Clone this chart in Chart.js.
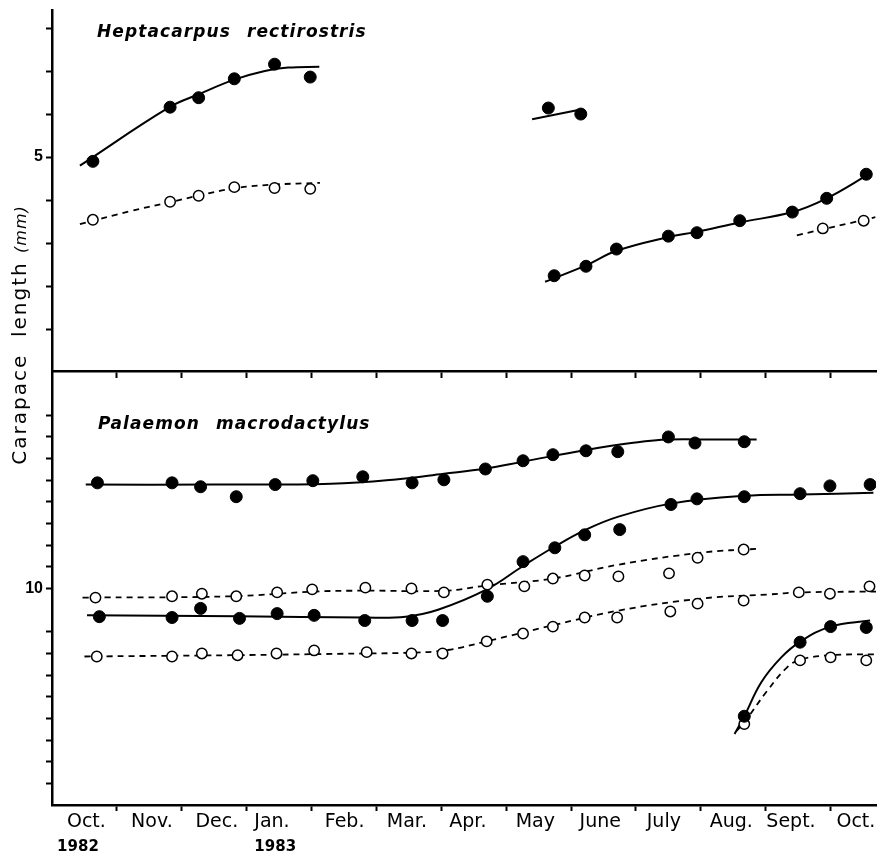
<!DOCTYPE html>
<html>
<head>
<meta charset="utf-8">
<script src="https://cdn.jsdelivr.net/npm/chart.js@4.4.1/dist/chart.umd.min.js"></script>
<style>
  html, body { margin: 0; padding: 0; background: #fff; }
  body { width: 883px; height: 856px; position: relative; overflow: hidden; }
  canvas { position: absolute; left: 0; top: 0; }
  #cvTop { z-index: 2; }
  #cvBottom { z-index: 1; }
  .species {
    position: absolute; z-index: 3; color: #000;
    font-family: "DejaVu Sans", sans-serif; font-style: italic; font-weight: bold;
    font-size: 17px; line-height: 17px; letter-spacing: 1.1px; word-spacing: 9px;
    white-space: nowrap;
  }
  #ylab {
    position: absolute; z-index: 3; left: -131px; top: 323px; width: 300px; height: 24px;
    line-height: 24px; text-align: center; transform: rotate(-90deg);
    font-family: "DejaVu Sans", sans-serif; font-size: 20px; letter-spacing: 2px; color: #000;
    white-space: nowrap;
  }
  #ylab i { font-size: 16px; letter-spacing: 1px; }
</style>
</head>
<body>
<canvas id="cvBottom" width="883" height="856"></canvas>
<canvas id="cvTop" width="883" height="380"></canvas>
<div class="species" style="left:97px; top:23px;">Heptacarpus rectirostris</div>
<div class="species" style="left:98px; top:415px;">Palaemon macrodactylus</div>
<div id="ylab">Carapace&nbsp;&nbsp;length <i>(mm)</i></div>
<script>
// Time axis: months since 1 Oct 1982.
const monthBoundaries = [1, 2, 3, 4, 5, 6, 7, 8, 9, 10, 11, 12];
const monthLabels = ['Oct.', 'Nov.', 'Dec.', 'Jan.', 'Feb.', 'Mar.', 'Apr.', 'May', 'June', 'July', 'Aug.', 'Sept.', 'Oct.'];
const monthLabelPos = [0.53, 1.54, 2.54, 3.39, 4.51, 5.47, 6.41, 7.45, 8.45, 9.43, 10.47, 11.39, 12.39];
const yearLabels = ['1982', '1983'];
const yearLabelPos = [0.40, 3.44];

// Carapace length ticks (mm)
const hrTicks = [3, 3.5, 4, 4.5, 5, 5.5, 6, 6.5];
const hrTickLabels = [5];
const pmTicks = [5.5, 6, 6.5, 7, 7.5, 8, 8.5, 9, 10, 10.5, 11, 11.5, 12, 12.5, 13, 13.5, 14];
const pmTickLabels = [10];

// Heptacarpus rectirostris
const hrAutumnMonth = [0.63, 1.82, 2.26, 2.81, 3.43, 3.98];
const hrAutumnMax = [4.95, 5.58, 5.69, 5.91, 6.08, 5.93];
const hrAutumnMaxFitMonth = [0.43, 1.81, 2.26, 2.81, 3.28, 3.64, 4.12];
const hrAutumnMaxFit = [4.90, 5.58, 5.73, 5.90, 6.00, 6.04, 6.05];
const hrAutumnMean = [4.27, 4.48, 4.55, 4.65, 4.64, 4.63];
const hrAutumnMeanFitMonth = [0.43, 1.2, 1.79, 2.25, 2.83, 3.43, 4.13];
const hrAutumnMeanFit = [4.22, 4.37, 4.47, 4.55, 4.64, 4.68, 4.70];
const hrSpringMonth = [7.65, 8.15];
const hrSpringMax = [5.57, 5.50];
const hrSpringFitMonth = [7.40, 8.13];
const hrSpringFit = [5.44, 5.55];
const hrSummerMonth = [7.74, 8.23, 8.70, 9.50, 9.94, 10.60, 11.41, 11.94, 12.55];
const hrSummerMax = [3.62, 3.73, 3.93, 4.08, 4.12, 4.26, 4.36, 4.52, 4.80];
const hrSummerMaxFitMonth = [7.60, 8.23, 8.70, 9.50, 9.94, 10.60, 11.41, 11.94, 12.61];
const hrSummerMaxFit = [3.55, 3.74, 3.91, 4.07, 4.13, 4.24, 4.36, 4.52, 4.81];
const hrLateMonth = [11.88, 12.51];
const hrLateMean = [4.17, 4.26];
const hrLateMeanFitMonth = [11.48, 12.69];
const hrLateMeanFit = [4.09, 4.30];

// Palaemon macrodactylus
const pmUpperMonth = [0.70, 1.85, 2.29, 2.84, 3.44, 4.02, 4.79, 5.55, 6.04, 6.68, 7.26, 7.72, 8.23, 8.72, 9.50, 9.91, 10.67];
const pmUpperMax = [12.44, 12.44, 12.35, 12.12, 12.40, 12.49, 12.58, 12.44, 12.51, 12.76, 12.95, 13.09, 13.18, 13.16, 13.50, 13.36, 13.39];
const pmUpperMaxFitMonth = [0.52, 2.5, 4.3, 5.3, 6.04, 6.68, 7.26, 8.23, 8.99, 9.5, 10.2, 10.86];
const pmUpperMaxFit = [12.40, 12.40, 12.42, 12.52, 12.65, 12.77, 12.93, 13.20, 13.37, 13.44, 13.44, 13.44];

const pmMidMonth = [0.73, 1.85, 2.29, 2.89, 3.47, 4.04, 4.82, 5.55, 6.02, 6.71, 7.26, 7.75, 8.21, 8.75, 9.54, 9.94, 10.67, 11.53, 11.99, 12.61];
const pmMidMax = [9.35, 9.33, 9.54, 9.31, 9.42, 9.38, 9.26, 9.26, 9.26, 9.82, 10.62, 10.94, 11.24, 11.36, 11.94, 12.07, 12.12, 12.19, 12.37, 12.40];
const pmMidMaxFitMonth = [0.54, 2.87, 4.82, 5.45, 5.95, 6.70, 7.26, 7.75, 8.23, 8.73, 9.54, 10.67, 11.53, 12.66];
const pmMidMaxFit = [9.38, 9.36, 9.33, 9.35, 9.51, 9.98, 10.52, 10.97, 11.36, 11.66, 11.96, 12.14, 12.17, 12.21];

const pmUpperMeanMonth = [0.67, 1.85, 2.31, 2.84, 3.47, 4.01, 4.83, 5.54, 6.04, 6.71, 7.28, 7.72, 8.21, 8.73, 9.51, 9.95, 10.66];
const pmUpperMean = [9.79, 9.82, 9.88, 9.82, 9.91, 9.98, 10.02, 10.00, 9.91, 10.09, 10.05, 10.23, 10.30, 10.28, 10.35, 10.71, 10.90];
const pmUpperMeanFitMonth = [0.47, 2.77, 4.05, 4.82, 6.06, 6.70, 7.72, 8.73, 10.02, 10.90];
const pmUpperMeanFit = [9.79, 9.82, 9.93, 9.95, 9.95, 10.07, 10.23, 10.55, 10.83, 10.92];

const pmLowerMeanMonth = [0.69, 1.85, 2.31, 2.86, 3.46, 4.04, 4.85, 5.54, 6.02, 6.70, 7.26, 7.72, 8.21, 8.71, 9.53, 9.95, 10.66, 11.51, 11.99, 12.60];
const pmLowerMean = [8.43, 8.43, 8.50, 8.46, 8.50, 8.57, 8.53, 8.50, 8.50, 8.78, 8.96, 9.12, 9.33, 9.33, 9.47, 9.65, 9.72, 9.91, 9.88, 10.05];
const pmLowerMeanFitMonth = [0.50, 2.77, 4.82, 5.58, 6.10, 6.70, 7.72, 8.73, 10.02, 11.02, 11.54, 12.71];
const pmLowerMeanFit = [8.43, 8.46, 8.50, 8.52, 8.58, 8.78, 9.15, 9.49, 9.77, 9.86, 9.91, 9.93];

const pmRecruitMonth = [10.67, 11.53, 12.00, 12.55];
const pmRecruitMax = [7.05, 8.76, 9.12, 9.10];
const pmRecruitMaxFitMonth = [10.52, 10.67, 10.93, 11.24, 11.54, 12.00, 12.61];
const pmRecruitMaxFit = [6.64, 7.05, 7.83, 8.41, 8.78, 9.12, 9.26];
const pmRecruitMean = [6.87, 8.34, 8.41, 8.34];
const pmRecruitMeanFitMonth = [10.55, 10.67, 11.02, 11.33, 11.54, 12.00, 12.69];
const pmRecruitMeanFit = [6.71, 6.91, 7.63, 8.18, 8.36, 8.46, 8.48];

// ---- helpers ----
const INK = '#000';
const X_MAX = 12.7;
const pts = (xs, ys) => xs.map((x, i) => ({ x, y: ys[i] }));

const filled = (xs, ys) => ({
  data: pts(xs, ys), showLine: false, order: 0,
  pointStyle: 'circle', pointRadius: 6, pointBackgroundColor: INK, pointBorderColor: INK, pointBorderWidth: 1
});
const open = (xs, ys) => ({
  data: pts(xs, ys), showLine: false, order: 0,
  pointStyle: 'circle', pointRadius: 5.2, pointBackgroundColor: '#fff', pointBorderColor: INK, pointBorderWidth: 1.5
});
const solidFit = (xs, ys) => ({
  data: pts(xs, ys), showLine: true, order: 1, pointRadius: 0,
  borderColor: INK, borderWidth: 2, tension: 0.4, fill: false
});
const dashedFit = (xs, ys) => ({
  data: pts(xs, ys), showLine: true, order: 1, pointRadius: 0,
  borderColor: INK, borderWidth: 1.8, borderDash: [6, 5], tension: 0.4, fill: false
});

function yAxis(min, max, tickVals, labelVals) {
  return {
    type: 'linear', position: 'left', min, max,
    afterBuildTicks: s => { s.ticks = tickVals.map(v => ({ value: v })); },
    afterFit: s => { s.width = 52; s.paddingTop = 0; s.paddingBottom = 0; },
    grid: { drawOnChartArea: false, drawTicks: true, tickLength: 6, tickWidth: 2, tickColor: INK },
    border: { display: true, color: INK, width: 2.5 },
    ticks: {
      autoSkip: false, padding: 3, color: INK,
      font: { family: 'Liberation Sans', size: 16, weight: 'bold' },
      callback: v => (labelVals.includes(v) ? String(v) : '')
    }
  };
}

function markAxis(height, tickLen) {
  return {
    type: 'linear', position: 'bottom', min: 0, max: X_MAX, weight: 0,
    afterBuildTicks: s => { s.ticks = monthBoundaries.map(v => ({ value: v })); },
    afterFit: s => { s.height = height; s.paddingLeft = 0; s.paddingRight = 0; },
    grid: { drawOnChartArea: false, drawTicks: true, tickLength: tickLen, tickWidth: 2, tickColor: INK },
    border: { display: true, color: INK, width: 2.5 },
    ticks: { display: false }
  };
}

function labelAxis(positions, labels, height, weight, font, padding) {
  return {
    type: 'linear', position: 'bottom', min: 0, max: X_MAX, weight,
    afterBuildTicks: s => { s.ticks = positions.map(v => ({ value: v })); },
    afterFit: s => { s.height = height; s.paddingLeft = 0; s.paddingRight = 0; },
    grid: { display: false, drawTicks: false },
    border: { display: false },
    ticks: {
      autoSkip: false, maxRotation: 0, minRotation: 0, padding, color: INK, font,
      callback: (v, i) => labels[i]
    }
  };
}

const baseOptions = {
  responsive: false, animation: false, devicePixelRatio: 1, events: [],
  plugins: { legend: { display: false }, tooltip: { enabled: false }, title: { display: false } }
};

// Upper panel: Heptacarpus rectirostris
new Chart(document.getElementById('cvTop'), {
  type: 'scatter',
  data: {
    datasets: [
      filled(hrAutumnMonth, hrAutumnMax),
      open(hrAutumnMonth, hrAutumnMean),
      filled(hrSpringMonth, hrSpringMax),
      filled(hrSummerMonth, hrSummerMax),
      open(hrLateMonth, hrLateMean),
      solidFit(hrAutumnMaxFitMonth, hrAutumnMaxFit),
      dashedFit(hrAutumnMeanFitMonth, hrAutumnMeanFit),
      solidFit(hrSpringFitMonth, hrSpringFit),
      solidFit(hrSummerMaxFitMonth, hrSummerMaxFit),
      dashedFit(hrLateMeanFitMonth, hrLateMeanFit)
    ]
  },
  options: {
    ...baseOptions,
    layout: { padding: { top: 10, left: 0, right: 0, bottom: 0 } },
    scales: {
      x: markAxis(9, 7),
      y: yAxis(2.512, 6.71, hrTicks, hrTickLabels)
    }
  }
});

// Lower panel: Palaemon macrodactylus
new Chart(document.getElementById('cvBottom'), {
  type: 'scatter',
  data: {
    datasets: [
      filled(pmUpperMonth, pmUpperMax),
      filled(pmMidMonth, pmMidMax),
      open(pmUpperMeanMonth, pmUpperMean),
      open(pmLowerMeanMonth, pmLowerMean),
      filled(pmRecruitMonth, pmRecruitMax),
      open(pmRecruitMonth, pmRecruitMean),
      solidFit(pmUpperMaxFitMonth, pmUpperMaxFit),
      solidFit(pmMidMaxFitMonth, pmMidMaxFit),
      dashedFit(pmUpperMeanFitMonth, pmUpperMeanFit),
      dashedFit(pmLowerMeanFitMonth, pmLowerMeanFit),
      solidFit(pmRecruitMaxFitMonth, pmRecruitMaxFit),
      dashedFit(pmRecruitMeanFitMonth, pmRecruitMeanFit)
    ]
  },
  options: {
    ...baseOptions,
    layout: { padding: { top: 372, left: 0, right: 0, bottom: 0 } },
    scales: {
      x: markAxis(6, 6),
      xMonth: labelAxis(monthLabelPos, monthLabels, 24, 1,
        { family: 'DejaVu Sans', size: 19 }, 0),
      xYear: labelAxis(yearLabelPos, yearLabels, 21, 2,
        { family: 'DejaVu Sans', size: 15, weight: 'bold' }, 3),
      y: yAxis(5, 15, pmTicks, pmTickLabels)
    }
  }
});
</script>
</body>
</html>
